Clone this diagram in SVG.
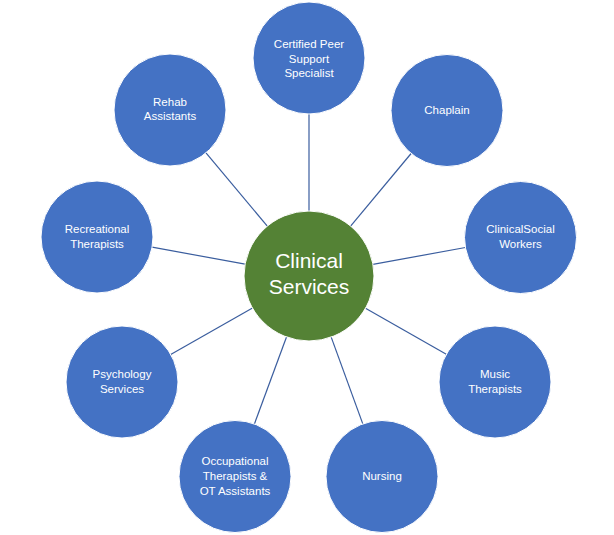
<svg xmlns="http://www.w3.org/2000/svg" width="614" height="535" viewBox="0 0 614 535">
<style>
.bg{fill:#ffffff}
.node{fill:#4472C4;stroke:#ffffff;stroke-width:1}
.hub{fill:#548235;stroke:#ffffff;stroke-width:1}
.lbl{font-family:"Liberation Sans",Arial,sans-serif;font-size:11.5px;fill:#ffffff;text-anchor:middle}
.hubl{font-family:"Liberation Sans",Arial,sans-serif;font-size:21px;fill:#ffffff;text-anchor:middle}
.conn line{stroke:#3A5D9E;stroke-width:1.2}
</style>
<rect class="bg" x="0" y="0" width="614" height="535"/>
<g id="connectors" class="conn">
<line x1="309" y1="211" x2="309" y2="114"/>
<line x1="350.6" y1="226.1" x2="411.1" y2="153.5"/>
<line x1="372.9" y1="264.4" x2="465.4" y2="247.5"/>
<line x1="365.5" y1="308.2" x2="446.3" y2="354.3"/>
<line x1="331.2" y1="337.1" x2="362.8" y2="423.9"/>
<line x1="286.5" y1="337" x2="254.4" y2="424"/>
<line x1="252.5" y1="308.1" x2="170.7" y2="354.4"/>
<line x1="245.1" y1="264.2" x2="152.1" y2="247.1"/>
<line x1="267.3" y1="226.2" x2="206" y2="152.9"/>
</g>
<g id="clinical-services">
<circle class="hub" cx="309" cy="276" r="65"/>
<text class="hubl" x="309" y="268">Clinical</text>
<text class="hubl" x="309" y="294">Services</text>
</g>
<g id="certified-peer">
<circle class="node" cx="309" cy="58" r="56"/>
<text class="lbl" x="309" y="48">Certified Peer</text>
<text class="lbl" x="309" y="62.5">Support</text>
<text class="lbl" x="309" y="77">Specialist</text>
</g>
<g id="chaplain">
<circle class="node" cx="447" cy="110.5" r="56"/>
<text class="lbl" x="447" y="114">Chaplain</text>
</g>
<g id="clinical-social-workers">
<circle class="node" cx="520.5" cy="237.5" r="56"/>
<text class="lbl" x="520.5" y="233">ClinicalSocial</text>
<text class="lbl" x="520.5" y="248">Workers</text>
</g>
<g id="music-therapists">
<circle class="node" cx="495" cy="382" r="56"/>
<text class="lbl" x="495" y="378">Music</text>
<text class="lbl" x="495" y="393">Therapists</text>
</g>
<g id="nursing">
<circle class="node" cx="382" cy="476.5" r="56"/>
<text class="lbl" x="382" y="480">Nursing</text>
</g>
<g id="occupational-therapists">
<circle class="node" cx="235" cy="476.5" r="56"/>
<text class="lbl" x="235" y="465">Occupational</text>
<text class="lbl" x="235" y="480">Therapists &amp;</text>
<text class="lbl" x="235" y="494.5">OT Assistants</text>
</g>
<g id="psychology-services">
<circle class="node" cx="122" cy="382" r="56"/>
<text class="lbl" x="122" y="378">Psychology</text>
<text class="lbl" x="122" y="393">Services</text>
</g>
<g id="recreational-therapists">
<circle class="node" cx="97" cy="237" r="56"/>
<text class="lbl" x="97" y="233">Recreational</text>
<text class="lbl" x="97" y="248">Therapists</text>
</g>
<g id="rehab-assistants">
<circle class="node" cx="170" cy="110" r="56"/>
<text class="lbl" x="170" y="105.5">Rehab</text>
<text class="lbl" x="170" y="120">Assistants</text>
</g>
</svg>
